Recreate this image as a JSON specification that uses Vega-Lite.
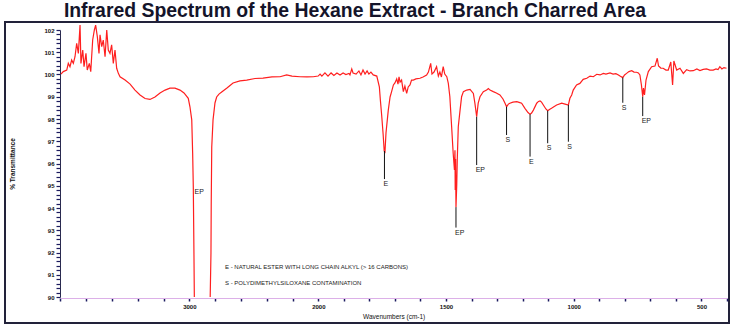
{
  "$schema": "https://vega.github.io/schema/vega-lite/v6.json",
  "width": 724,
  "height": 301,
  "autosize": {"type": "none"},
  "padding": {"left": 5, "top": 22, "right": 9, "bottom": 7},
  "background": "white",
  "title": {"text": "Infrared Spectrum of the Hexane Extract - Branch Charred Area", "font": "Liberation Sans", "fontSize": 19.4, "fontWeight": "bold", "color": "#14142a", "anchor": "middle", "frame": "group", "dx": -12, "baseline": "alphabetic", "offset": -14},
  "config": {"view": {"stroke": "#22223a", "strokeWidth": 2}, "font": "Liberation Sans"},
  "datasets": {
    "spec": [
      {"w":3995,"t":100.02,"s":1},{"w":3977,"t":100.13,"s":1},{"w":3950,"t":100.2,"s":1},{"w":3938,"t":100.5,"s":1},{"w":3925,"t":100.35,"s":1},{"w":3912,"t":100.65,"s":1},{"w":3899,"t":100.5,"s":1},{"w":3886,"t":100.8,"s":1},{"w":3873,"t":101.4,"s":1},{"w":3860,"t":100.95,"s":1},{"w":3847,"t":102.22,"s":1},{"w":3840,"t":100.5,"s":1},{"w":3826,"t":101.1,"s":1},{"w":3816,"t":100.35,"s":1},{"w":3801,"t":100.95,"s":1},{"w":3791,"t":100.2,"s":1},{"w":3775,"t":100.5,"s":1},{"w":3764,"t":100.13,"s":1},{"w":3749,"t":101.55,"s":1},{"w":3736,"t":102.0,"s":1},{"w":3726,"t":102.22,"s":1},{"w":3713,"t":101.7,"s":1},{"w":3700,"t":100.95,"s":1},{"w":3692,"t":101.78,"s":1},{"w":3679,"t":101.25,"s":1},{"w":3667,"t":101.55,"s":1},{"w":3653,"t":100.8,"s":1},{"w":3640,"t":102.0,"s":1},{"w":3628,"t":101.1,"s":1},{"w":3615,"t":100.95,"s":1},{"w":3602,"t":101.33,"s":1},{"w":3589,"t":100.5,"s":1},{"w":3576,"t":101.1,"s":1},{"w":3563,"t":100.28,"s":1},{"w":3550,"t":100.05,"s":1},{"w":3537,"t":99.9,"s":1},
      {"w":3498,"t":99.75,"s":1},{"w":3459,"t":99.57,"s":1},{"w":3421,"t":99.3,"s":1},{"w":3382,"t":99.08,"s":1},{"w":3343,"t":98.92,"s":1},{"w":3305,"t":98.88,"s":1},{"w":3266,"t":98.99,"s":1},{"w":3227,"t":99.17,"s":1},{"w":3188,"t":99.3,"s":1},{"w":3150,"t":99.39,"s":1},{"w":3111,"t":99.39,"s":1},{"w":3072,"t":99.3,"s":1},{"w":3041,"t":99.17,"s":1},{"w":3008,"t":98.93,"s":1},{"w":2995,"t":98.55,"s":1},{"w":2981,"t":97.96,"s":1},{"w":2974,"t":96.47,"s":1},{"w":2969,"t":94.96,"s":1},{"w":2964,"t":91.98,"s":1},{"w":2961,"t":90,"s":1},
      {"w":2838,"t":90,"s":2},{"w":2832,"t":91.98,"s":2},{"w":2830,"t":94.22,"s":2},{"w":2826,"t":96.74,"s":2},{"w":2816,"t":97.96,"s":2},{"w":2801,"t":98.72,"s":2},{"w":2788,"t":98.99,"s":2},{"w":2770,"t":99.12,"s":2},{"w":2749,"t":99.21,"s":2},{"w":2708,"t":99.39,"s":2},{"w":2661,"t":99.62,"s":2},{"w":2607,"t":99.71,"s":2},{"w":2555,"t":99.75,"s":2},{"w":2491,"t":99.82,"s":2},{"w":2429,"t":99.84,"s":2},{"w":2359,"t":99.89,"s":2},{"w":2297,"t":99.9,"s":2},{"w":2245,"t":99.98,"s":2},{"w":2204,"t":99.93,"s":2},{"w":2142,"t":99.9,"s":2},{"w":2088,"t":99.89,"s":2},{"w":2039,"t":99.9,"s":2},
      {"w":2001,"t":99.93,"s":2},{"w":1993,"t":100.02,"s":2},{"w":1986,"t":99.93,"s":2},{"w":1974,"t":100.07,"s":2},{"w":1962,"t":99.93,"s":2},{"w":1950,"t":100.07,"s":2},{"w":1939,"t":99.96,"s":2},{"w":1927,"t":100.07,"s":2},{"w":1915,"t":99.98,"s":2},{"w":1903,"t":100.07,"s":2},{"w":1892,"t":100.0,"s":2},{"w":1880,"t":100.05,"s":2},{"w":1876,"t":99.98,"s":2},{"w":1869,"t":100.25,"s":2},{"w":1864,"t":100.07,"s":2},{"w":1852,"t":100.02,"s":2},{"w":1841,"t":100.16,"s":2},{"w":1833,"t":99.98,"s":2},{"w":1825,"t":100.2,"s":2},{"w":1817,"t":100.02,"s":2},{"w":1809,"t":100.16,"s":2},{"w":1802,"t":100.02,"s":2},{"w":1794,"t":100.11,"s":2},{"w":1785,"t":99.98,"s":2},{"w":1771,"t":99.93,"s":2},{"w":1761,"t":99.45,"s":2},{"w":1757,"t":98.85,"s":2},{"w":1752,"t":98.18,"s":2},{"w":1746,"t":97.28,"s":2},{"w":1742,"t":96.56,"s":2},{"w":1739,"t":96.52,"s":2},{"w":1735,"t":97.37,"s":2},{"w":1726,"t":98.4,"s":2},{"w":1719,"t":98.99,"s":2},{"w":1713,"t":99.23,"s":2},{"w":1706,"t":99.53,"s":2},{"w":1700,"t":99.62,"s":2},{"w":1693,"t":99.8,"s":2},{"w":1688,"t":99.57,"s":2},{"w":1684,"t":99.89,"s":2},{"w":1680,"t":99.66,"s":2},{"w":1674,"t":99.75,"s":2},{"w":1667,"t":99.23,"s":2},{"w":1661,"t":99.48,"s":2},{"w":1654,"t":99.15,"s":2},{"w":1648,"t":99.44,"s":2},{"w":1641,"t":99.53,"s":2},{"w":1635,"t":99.75,"s":2},{"w":1628,"t":99.75,"s":2},{"w":1618,"t":99.8,"s":2},{"w":1602,"t":99.83,"s":2},{"w":1590,"t":99.89,"s":2},{"w":1576,"t":99.98,"s":2},{"w":1569,"t":100.11,"s":2},{"w":1560,"t":100.5,"s":2},{"w":1555,"t":100.02,"s":2},{"w":1547,"t":100.11,"s":2},{"w":1537,"t":100.35,"s":2},{"w":1530,"t":99.93,"s":2},{"w":1524,"t":100.11,"s":2},{"w":1518,"t":99.89,"s":2},{"w":1511,"t":100.35,"s":2},{"w":1505,"t":100.02,"s":2},{"w":1497,"t":99.9,"s":2},{"w":1491,"t":99.6,"s":2},{"w":1485,"t":99.0,"s":2},{"w":1478,"t":97.65,"s":2},{"w":1472,"t":96.46,"s":2},{"w":1467,"t":95.71,"s":2},{"w":1465,"t":96.6,"s":2},{"w":1464,"t":94.81,"s":2},{"w":1462.5,"t":96.2,"s":2},{"w":1461,"t":94.04,"s":2},{"w":1458,"t":95.03,"s":2},{"w":1456,"t":96.16,"s":2},{"w":1452,"t":97.65,"s":2},{"w":1445,"t":98.4,"s":2},{"w":1439,"t":99.0,"s":2},{"w":1432,"t":99.23,"s":2},{"w":1419,"t":99.3,"s":2},{"w":1406,"t":99.33,"s":2},{"w":1393,"t":99.15,"s":2},{"w":1387,"t":98.71,"s":2},{"w":1380,"t":98.1,"s":2},{"w":1374,"t":98.71,"s":2},{"w":1367,"t":99.0,"s":2},{"w":1354,"t":99.23,"s":2},{"w":1341,"t":99.3,"s":2},{"w":1334,"t":99.37,"s":2},{"w":1328,"t":99.3,"s":2},{"w":1315,"t":99.23,"s":2},{"w":1303,"t":99.17,"s":2},{"w":1289,"t":99.08,"s":2},{"w":1277,"t":98.9,"s":2},{"w":1269,"t":98.71,"s":2},{"w":1263,"t":98.55,"s":2},{"w":1256,"t":98.67,"s":2},{"w":1250,"t":98.71,"s":2},{"w":1238,"t":98.76,"s":2},{"w":1223,"t":98.78,"s":2},{"w":1214,"t":98.75,"s":2},{"w":1204,"t":98.71,"s":2},{"w":1191,"t":98.48,"s":2},{"w":1179,"t":98.29,"s":2},{"w":1171,"t":98.21,"s":2},{"w":1165,"t":98.27,"s":2},{"w":1158,"t":98.4,"s":2},{"w":1145,"t":98.71,"s":2},{"w":1138,"t":98.79,"s":2},{"w":1132,"t":98.81,"s":2},{"w":1126,"t":98.76,"s":2},{"w":1119,"t":98.63,"s":2},{"w":1109,"t":98.45,"s":2},{"w":1102,"t":98.37,"s":2},{"w":1095,"t":98.43,"s":2},{"w":1087,"t":98.48,"s":2},{"w":1067,"t":98.63,"s":2},{"w":1047,"t":98.71,"s":2},{"w":1034,"t":98.67,"s":2},{"w":1021,"t":98.63,"s":2},{"w":1015,"t":98.93,"s":2},{"w":1008,"t":99.08,"s":2},{"w":1002,"t":99.3,"s":2},{"w":989,"t":99.53,"s":2},{"w":976,"t":99.6,"s":2},{"w":963,"t":99.78,"s":2},{"w":949,"t":99.83,"s":2},{"w":936,"t":99.93,"s":2},{"w":923,"t":99.9,"s":2},{"w":910,"t":100.01,"s":2},{"w":897,"t":99.98,"s":2},{"w":884,"t":100.05,"s":2},{"w":874,"t":100.02,"s":2},{"w":858,"t":100.07,"s":2},{"w":846,"t":100.02,"s":2},{"w":835,"t":100.04,"s":2},{"w":825,"t":99.98,"s":2},{"w":819,"t":99.93,"s":2},{"w":808,"t":99.86,"s":2},{"w":801,"t":99.98,"s":2},{"w":793,"t":100.05,"s":2},{"w":784,"t":100.13,"s":2},{"w":773,"t":100.17,"s":2},{"w":764,"t":100.11,"s":2},{"w":754,"t":100.1,"s":2},{"w":747,"t":100.07,"s":2},{"w":741,"t":99.98,"s":2},{"w":735,"t":99.53,"s":2},{"w":730,"t":99.0,"s":2},{"w":727,"t":99.39,"s":2},{"w":723,"t":99.08,"s":2},{"w":717,"t":99.75,"s":2},{"w":708,"t":100.13,"s":2},{"w":695,"t":100.35,"s":2},{"w":682,"t":100.38,"s":2},{"w":673,"t":100.73,"s":2},{"w":668,"t":100.38,"s":2},{"w":659,"t":100.29,"s":2},{"w":650,"t":100.28,"s":2},{"w":639,"t":100.2,"s":2},{"w":630,"t":100.2,"s":2},{"w":620,"t":100.56,"s":2},{"w":613,"t":99.53,"s":2},{"w":608,"t":100.61,"s":2},{"w":597,"t":100.2,"s":2},{"w":584,"t":100.28,"s":2},{"w":571,"t":100.05,"s":2},{"w":558,"t":100.22,"s":2},{"w":545,"t":100.16,"s":2},{"w":532,"t":100.17,"s":2},{"w":518,"t":100.25,"s":2},{"w":506,"t":100.18,"s":2},{"w":493,"t":100.23,"s":2},{"w":480,"t":100.25,"s":2},{"w":467,"t":100.2,"s":2},{"w":454,"t":100.2,"s":2},{"w":443,"t":100.25,"s":2},{"w":435,"t":100.22,"s":2},{"w":428,"t":100.35,"s":2},{"w":420,"t":100.25,"s":2},{"w":412,"t":100.31,"s":2},{"w":402,"t":100.28,"s":2}
    ],
    "rules": [
      {"w":1741,"t":96.56,"t2":95.3},
      {"w":1461,"t":94.04,"t2":93.12},
      {"w":1380,"t":98.1,"t2":95.93},
      {"w":1263,"t":98.55,"t2":97.28},
      {"w":1171,"t":98.21,"t2":96.31},
      {"w":1102,"t":98.37,"t2":96.91},
      {"w":1021,"t":98.63,"t2":96.98},
      {"w":808,"t":99.86,"t2":98.73},
      {"w":730,"t":99.0,"t2":98.13}
    ],
    "labels": [
      {"w":2952,"t":94.96,"label":"EP"},
      {"w":1741,"t":95.3,"label":"E"},
      {"w":1461,"t":93.12,"label":"EP"},
      {"w":1380,"t":95.93,"label":"EP"},
      {"w":1263,"t":97.28,"label":"S"},
      {"w":1171,"t":96.31,"label":"E"},
      {"w":1102,"t":96.91,"label":"S"},
      {"w":1021,"t":96.98,"label":"S"},
      {"w":808,"t":98.73,"label":"S"},
      {"w":730,"t":98.13,"label":"EP"}
    ],
    "notes": [
      {"w":2723,"t":91.36,"label":"E - NATURAL ESTER WITH LONG CHAIN ALKYL (> 16 CARBONS)"},
      {"w":2723,"t":90.62,"label":"S - POLYDIMETHYLSILOXANE CONTAMINATION"}
    ]
  },
  "encoding": {
    "x": {
      "field": "w", "type": "quantitative",
      "scale": {"domain": [4000, 2000, 400], "range": [55.3, 313.3, 722], "nice": false, "zero": false},
      "axis": {
        "title": "Wavenumbers (cm-1)",
        "offset": -25,
        "grid": false,
        "values": [4000,3800,3600,3400,3200,3000,2800,2600,2400,2200,2000,1900,1800,1700,1600,1500,1400,1300,1200,1100,1000,900,800,700,600,500,400],
        "labelExpr": "indexof([3000,2000,1500,1000,500], datum.value) >= 0 ? format(datum.value, 'd') : ''",
        "tickSize": 3,
        "tickColor": "#1c1c60",
        "tickWidth": 1.5,
        "domainColor": "#dcb0e8",
        "domainWidth": 1,
        "labelFont": "Liberation Sans",
        "labelFontSize": 6,
        "labelFontWeight": "bold",
        "labelColor": "#111111",
        "labelPadding": 2,
        "labelFlush": false,
        "labelOverlap": false,
        "titleFont": "Liberation Sans",
        "titleFontSize": 6.5,
        "titleFontWeight": "normal",
        "titleColor": "#111111",
        "titlePadding": 4
      }
    },
    "y": {
      "field": "t", "type": "quantitative",
      "scale": {"domain": [90, 102], "range": [275, 8], "nice": false, "zero": false},
      "axis": {
        "title": "% Transmittance",
        "offset": -55,
        "grid": false,
        "values": [90,90.2,90.4,90.6,90.8,91,91.2,91.4,91.6,91.8,92,92.2,92.4,92.6,92.8,93,93.2,93.4,93.6,93.8,94,94.2,94.4,94.6,94.8,95,95.2,95.4,95.6,95.8,96,96.2,96.4,96.6,96.8,97,97.2,97.4,97.6,97.8,98,98.2,98.4,98.6,98.8,99,99.2,99.4,99.6,99.8,100,100.2,100.4,100.6,100.8,101,101.2,101.4,101.6,101.8,102],
        "labelExpr": "datum.value % 1 === 0 ? format(datum.value, 'd') : ''",
        "tickSize": 4,
        "tickColor": "#1c1c60",
        "tickWidth": 1.2,
        "domainColor": "#2a2a50",
        "domainWidth": 1,
        "labelFont": "Liberation Sans",
        "labelFontSize": 6,
        "labelFontWeight": "bold",
        "labelColor": "#111111",
        "labelPadding": 2,
        "labelFlush": false,
        "labelOverlap": false,
        "titleFont": "Liberation Sans",
        "titleFontSize": 6.5,
        "titleFontWeight": "bold",
        "titleColor": "#111111",
        "titlePadding": 28
      }
    }
  },
  "layer": [
    {
      "data": {"name": "spec"},
      "mark": {"type": "line", "color": "#ff1f1f", "strokeWidth": 1.2},
      "encoding": {
        "detail": {"field": "s", "type": "nominal"}
      }
    },
    {
      "data": {"name": "rules"},
      "mark": {"type": "rule", "color": "#111111", "strokeWidth": 1},
      "encoding": {
        "y2": {"field": "t2"}
      }
    },
    {
      "data": {"name": "labels"},
      "mark": {"type": "text", "align": "left", "baseline": "top", "dx": -1, "dy": 1, "fontSize": 7, "font": "Liberation Sans", "color": "#1a1a1a"},
      "encoding": {
        "text": {"field": "label"}
      }
    },
    {
      "data": {"name": "notes"},
      "mark": {"type": "text", "align": "left", "baseline": "middle", "fontSize": 6, "font": "Liberation Sans", "color": "#1a1a1a"},
      "encoding": {
        "text": {"field": "label"}
      }
    }
  ]
}
